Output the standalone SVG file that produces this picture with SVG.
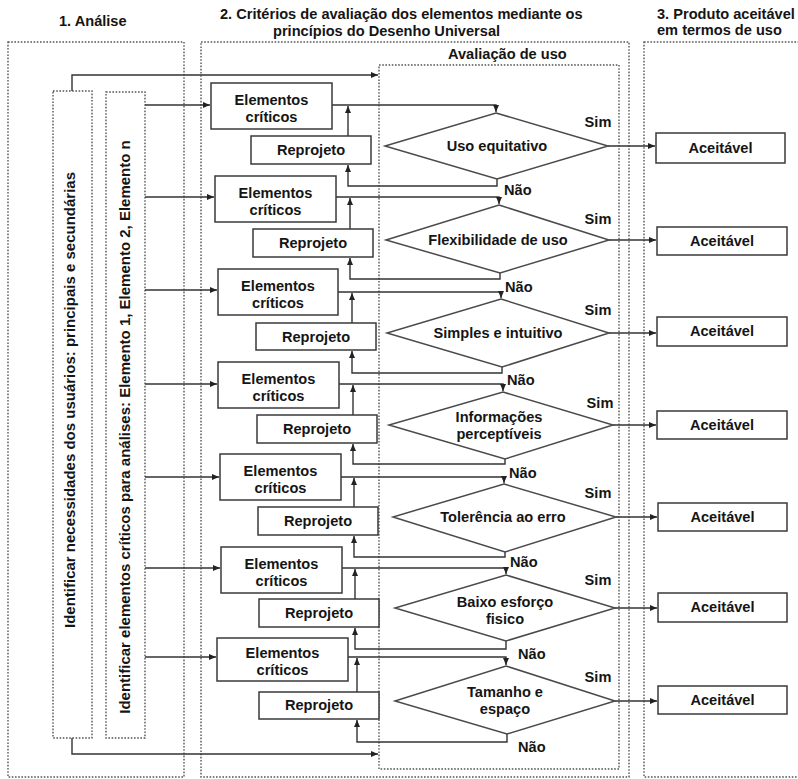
<svg xmlns="http://www.w3.org/2000/svg" width="798" height="779" viewBox="0 0 798 779">
  <defs>
    <style>
      .t { font-family: "Liberation Sans", Arial, sans-serif; font-weight: bold; font-size: 14.6px; fill: #151515; }
      .v { font-size: 15px; }
      .c { text-anchor: middle; }
      .box { fill: #fff; stroke: #3a3a3a; stroke-width: 1.5; }
      .dia { fill: #fff; stroke: #4a4a4a; stroke-width: 1.5; }
      .dot { fill: none; stroke: #555; stroke-width: 1.4; stroke-dasharray: 1.6 1.6; }
      .ln { fill: none; stroke: #333; stroke-width: 1.4; }
      .arr { marker-end: url(#ah); }
    </style>
    <marker id="ah" markerUnits="userSpaceOnUse" markerWidth="8" markerHeight="8" refX="7" refY="3" orient="auto">
      <path d="M0,0 L7,3 L0,6 z" fill="#222"/>
    </marker>
  </defs>
  <rect width="798" height="779" fill="#fff"/>

  <!-- column headings -->
  <g id="headings">
    <text class="t" x="59" y="26">1. Análise</text>
    <text class="t" x="220" y="19">2. Critérios de avaliação dos elementos mediante os</text>
    <text class="t" x="273" y="36">princípios do Desenho Universal</text>
    <text class="t" x="657" y="19">3. Produto aceitável</text>
    <text class="t" x="657" y="35">em termos de uso</text>
    <text class="t" x="448" y="59">Avaliação de uso</text>
  </g>

  <!-- dotted frames -->
  <g id="frames">
    <rect class="dot" x="8" y="42" width="176" height="735"/>
    <rect class="dot" x="201" y="42" width="428" height="735"/>
    <rect class="dot" x="644" y="42" width="160" height="735"/>
    <rect class="dot" x="379" y="65" width="240" height="704"/>
  </g>

  <!-- analysis columns -->
  <g id="necessidades">
    <rect class="dot" x="53" y="91" width="39" height="647"/>
    <text class="t v c" transform="translate(75,400) rotate(-90)">Identificar necessidades dos usuários: principais e secundárias</text>
  </g>
  <g id="elementos-analise">
    <rect class="dot" x="106" y="92" width="39" height="646"/>
    <text class="t v c" transform="translate(130,427) rotate(-90)">Identificar elementos críticos para análises: Elemento 1, Elemento 2, Elemento n</text>
  </g>

  <!-- connectors -->
  <g id="connectors">
    <path class="ln arr" d="M72,91 V75 H378"/>
    <path class="ln arr" d="M72,738 V754 H378"/>

    <!-- stage 1 -->
    <path class="ln arr" d="M145,105 H210"/>
    <path class="ln arr" d="M332,105 H496 V112"/>
    <path class="ln arr" d="M348,136 V106"/>
    <path class="ln arr" d="M497,179 V186 H348 V165"/>
    <path class="ln arr" d="M608,146 H655"/>
    <!-- stage 2 -->
    <path class="ln arr" d="M145,197 H214"/>
    <path class="ln arr" d="M336,197 H499 V204"/>
    <path class="ln arr" d="M350,229 V198"/>
    <path class="ln arr" d="M500,273 V279 H350 V258"/>
    <path class="ln arr" d="M609,240 H656"/>
    <!-- stage 3 -->
    <path class="ln arr" d="M145,290 H217"/>
    <path class="ln arr" d="M338,292 H501 V298"/>
    <path class="ln arr" d="M352,323 V293"/>
    <path class="ln arr" d="M502,367 V373 H352 V351"/>
    <path class="ln arr" d="M609,333 H656"/>
    <!-- stage 4 -->
    <path class="ln arr" d="M145,384 H217"/>
    <path class="ln arr" d="M339,384 H503 V391"/>
    <path class="ln arr" d="M353,415 V385"/>
    <path class="ln arr" d="M505,459 V464 H353 V444"/>
    <path class="ln arr" d="M613,425 H656"/>
    <!-- stage 5 -->
    <path class="ln arr" d="M145,477 H219"/>
    <path class="ln arr" d="M341,477 H504 V483"/>
    <path class="ln arr" d="M354,507 V478"/>
    <path class="ln arr" d="M505,552 V557 H354 V536"/>
    <path class="ln arr" d="M616,517 H657"/>
    <!-- stage 6 -->
    <path class="ln arr" d="M145,568 H220"/>
    <path class="ln arr" d="M342,568 H506 V574"/>
    <path class="ln arr" d="M355,599 V569"/>
    <path class="ln arr" d="M506,641 V649 H355 V628"/>
    <path class="ln arr" d="M615,608 H657"/>
    <!-- stage 7 -->
    <path class="ln arr" d="M145,657 H216"/>
    <path class="ln arr" d="M348,657 H506 V665"/>
    <path class="ln arr" d="M357,692 V658"/>
    <path class="ln arr" d="M507,734 V742 H357 V720"/>
    <path class="ln arr" d="M615,701 H657"/>
  </g>

  <!-- stage 1 -->
  <g id="elementos-1">
    <rect class="box" x="211" y="83" width="121" height="46"/>
    <text class="t c" x="271.5" y="105">Elementos</text>
    <text class="t c" x="271.5" y="122">críticos</text>
  </g>
  <g id="reprojeto-1">
    <rect class="box" x="251" y="136" width="120" height="28"/>
    <text class="t c" x="311" y="155">Reprojeto</text>
  </g>
  <g id="criterio-1">
    <polygon class="dia" points="496,113 608,146 497,179 385,146"/>
    <text class="t c" x="497" y="151">Uso equitativo</text>
    <text class="t c" x="598" y="127">Sim</text>
    <text class="t" x="504" y="195">Não</text>
  </g>
  <g id="aceitavel-1">
    <rect class="box" x="656" y="133" width="129" height="30"/>
    <text class="t c" x="720.5" y="153">Aceitável</text>
  </g>

  <!-- stage 2 -->
  <g id="elementos-2">
    <rect class="box" x="215" y="176" width="121" height="46"/>
    <text class="t c" x="275.5" y="198">Elementos</text>
    <text class="t c" x="275.5" y="215">críticos</text>
  </g>
  <g id="reprojeto-2">
    <rect class="box" x="253" y="229" width="120" height="28"/>
    <text class="t c" x="313" y="248">Reprojeto</text>
  </g>
  <g id="criterio-2">
    <polygon class="dia" points="499,205 609,240 500,273 386,240"/>
    <text class="t c" x="498" y="245">Flexibilidade de uso</text>
    <text class="t c" x="598" y="224">Sim</text>
    <text class="t" x="505" y="292">Não</text>
  </g>
  <g id="aceitavel-2">
    <rect class="box" x="657" y="227" width="130" height="28"/>
    <text class="t c" x="722" y="246">Aceitável</text>
  </g>

  <!-- stage 3 -->
  <g id="elementos-3">
    <rect class="box" x="218" y="269" width="120" height="46"/>
    <text class="t c" x="278" y="291">Elementos</text>
    <text class="t c" x="278" y="308">críticos</text>
  </g>
  <g id="reprojeto-3">
    <rect class="box" x="256" y="323" width="120" height="27"/>
    <text class="t c" x="316" y="342">Reprojeto</text>
  </g>
  <g id="criterio-3">
    <polygon class="dia" points="501,299 609,333 502,367 387,333"/>
    <text class="t c" x="498" y="338">Simples e intuitivo</text>
    <text class="t c" x="598" y="315">Sim</text>
    <text class="t" x="507" y="385">Não</text>
  </g>
  <g id="aceitavel-3">
    <rect class="box" x="657" y="317" width="130" height="29"/>
    <text class="t c" x="722" y="336">Aceitável</text>
  </g>

  <!-- stage 4 -->
  <g id="elementos-4">
    <rect class="box" x="218" y="362" width="121" height="46"/>
    <text class="t c" x="278.5" y="384">Elementos</text>
    <text class="t c" x="278.5" y="401">críticos</text>
  </g>
  <g id="reprojeto-4">
    <rect class="box" x="257" y="415" width="120" height="28"/>
    <text class="t c" x="317" y="434">Reprojeto</text>
  </g>
  <g id="criterio-4">
    <polygon class="dia" points="503,392 613,425 505,459 389,425"/>
    <text class="t c" x="499" y="422">Informações</text>
    <text class="t c" x="499" y="439">perceptíveis</text>
    <text class="t c" x="600" y="408">Sim</text>
    <text class="t" x="509" y="478">Não</text>
  </g>
  <g id="aceitavel-4">
    <rect class="box" x="657" y="411" width="130" height="28"/>
    <text class="t c" x="722" y="430">Aceitável</text>
  </g>

  <!-- stage 5 -->
  <g id="elementos-5">
    <rect class="box" x="220" y="454" width="121" height="46"/>
    <text class="t c" x="280.5" y="476">Elementos</text>
    <text class="t c" x="280.5" y="493">críticos</text>
  </g>
  <g id="reprojeto-5">
    <rect class="box" x="258" y="507" width="120" height="28"/>
    <text class="t c" x="318" y="526">Reprojeto</text>
  </g>
  <g id="criterio-5">
    <polygon class="dia" points="504,484 616,517 505,552 393,517"/>
    <text class="t c" x="503" y="522">Tolerência ao erro</text>
    <text class="t c" x="598" y="498">Sim</text>
    <text class="t" x="510" y="567">Não</text>
  </g>
  <g id="aceitavel-5">
    <rect class="box" x="658" y="503" width="129" height="28"/>
    <text class="t c" x="722.5" y="522">Aceitável</text>
  </g>

  <!-- stage 6 -->
  <g id="elementos-6">
    <rect class="box" x="221" y="547" width="121" height="46"/>
    <text class="t c" x="281.5" y="569">Elementos</text>
    <text class="t c" x="281.5" y="586">críticos</text>
  </g>
  <g id="reprojeto-6">
    <rect class="box" x="259" y="599" width="120" height="28"/>
    <text class="t c" x="319" y="618">Reprojeto</text>
  </g>
  <g id="criterio-6">
    <polygon class="dia" points="506,575 615,608 506,641 395,608"/>
    <text class="t c" x="505" y="607">Baixo esforço</text>
    <text class="t c" x="505" y="624">fisico</text>
    <text class="t c" x="598" y="585">Sim</text>
    <text class="t" x="518" y="659">Não</text>
  </g>
  <g id="aceitavel-6">
    <rect class="box" x="658" y="593" width="129" height="29"/>
    <text class="t c" x="722.5" y="612">Aceitável</text>
  </g>

  <!-- stage 7 -->
  <g id="elementos-7">
    <rect class="box" x="217" y="638" width="131" height="43"/>
    <text class="t c" x="282.5" y="658">Elementos</text>
    <text class="t c" x="282.5" y="675">críticos</text>
  </g>
  <g id="reprojeto-7">
    <rect class="box" x="259" y="692" width="120" height="27"/>
    <text class="t c" x="319" y="710">Reprojeto</text>
  </g>
  <g id="criterio-7">
    <polygon class="dia" points="506,666 615,701 507,734 395,701"/>
    <text class="t c" x="505" y="697">Tamanho e</text>
    <text class="t c" x="505" y="714">espaço</text>
    <text class="t c" x="598" y="682">Sim</text>
    <text class="t" x="518" y="752">Não</text>
  </g>
  <g id="aceitavel-7">
    <rect class="box" x="658" y="686" width="129" height="28"/>
    <text class="t c" x="722.5" y="705">Aceitável</text>
  </g>
</svg>
